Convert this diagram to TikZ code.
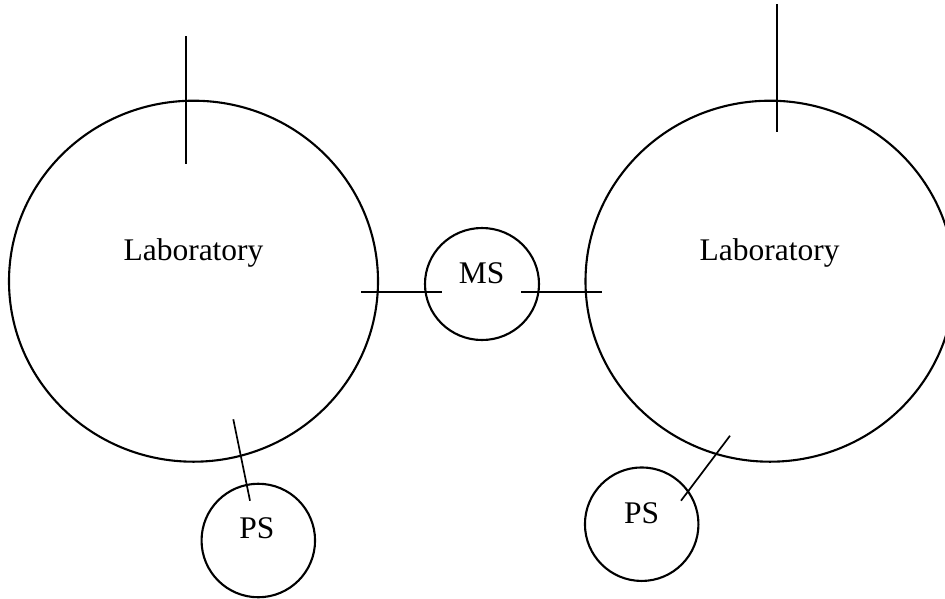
\documentclass[tikz,border=0pt]{standalone}
\usepackage{fontspec}
\setmainfont{Liberation Serif}
\usetikzlibrary{shapes.geometric}
\begin{document}
\begin{tikzpicture}[x=1pt,y=-1pt,
  ring/.style={draw, ellipse, inner sep=0pt, line width=2.1pt},
  lbl/.style={font=\fontsize{31.5}{31.5}\selectfont, inner sep=0pt},
  wire/.style={line width=1.7pt}]
\useasboundingbox (0,0) rectangle (945,598);
% circles
\node[ring, minimum width=369pt, minimum height=361pt] (labL) at (193.5,281.2) {};
\node[ring, minimum width=369pt, minimum height=361pt] (labR) at (770,281.2) {};
\node[ring, minimum width=114pt, minimum height=112pt] (ms) at (482,284) {};
\node[ring, minimum width=113.5pt, minimum height=113.5pt] (psL) at (258.3,540.5) {};
\node[ring, minimum width=113.5pt, minimum height=113.5pt] (psR) at (641.7,524.2) {};
% texts
\node[lbl] (tL) at (193.5,253) {Laboratory};
\node[lbl] (tR) at (769.7,253) {Laboratory};
\node[lbl] (tMS) at (481.7,273) {MS};
\node[lbl] (tPSL) at (257,528) {PS};
\node[lbl] (tPSR) at (641.7,513.5) {PS};
% connector end points
\coordinate (a1) at (185.7,36);
\coordinate (a2) at (185.7,164.3);
\coordinate (b1) at (777.3,4);
\coordinate (b2) at (777.3,132.3);
\coordinate (c1) at (361,292.3);
\coordinate (c2) at (441.7,292.3);
\coordinate (d1) at (521,292.3);
\coordinate (d2) at (602,292.3);
\coordinate (e1) at (233.3,419.3);
\coordinate (e2) at (250,500.7);
\coordinate (f1) at (730,435.7);
\coordinate (f2) at (681,500.7);
\draw[wire] (a1) -- (a2);
\draw[wire] (b1) -- (b2);
\draw[wire] (c1) -- (c2);
\draw[wire] (d1) -- (d2);
\draw[wire] (e1) -- (e2);
\draw[wire] (f1) -- (f2);
\end{tikzpicture}
\end{document}
